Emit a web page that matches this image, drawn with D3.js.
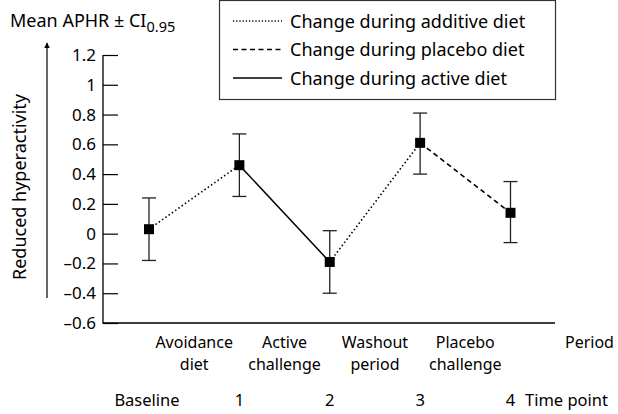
<!DOCTYPE html>
<html>
<head>
<meta charset="utf-8">
<script src="https://cdn.jsdelivr.net/npm/d3@7"></script>
<style>
  body { margin: 0; background: #fff; }
  svg { display: block; font-family: "Noto Sans", sans-serif; }
</style>
</head>
<body>
<svg id="chart" width="618" height="414"></svg>
<script>
// time points along the x axis (0 = baseline)
const timePoints = ["Baseline", "1", "2", "3", "4"];
const periodTop = ["Avoidance", "Active", "Washout", "Placebo"];
const periodBottom = ["diet", "challenge", "period", "challenge"];
// mean APHR and 95% CI at each time point
const means = [0.03, 0.46, -0.19, 0.61, 0.14];
const ciLow = [-0.18, 0.25, -0.40, 0.40, -0.06];
const ciHigh = [0.24, 0.67, 0.02, 0.81, 0.35];
// which diet each segment between time points belongs to
const segmentKind = ["additive", "active", "additive", "placebo"];
const legendKinds = ["additive", "placebo", "active"];
const legendLabels = ["Change during additive diet", "Change during placebo diet", "Change during active diet"];
const yTicks = [-0.6, -0.4, -0.2, 0, 0.2, 0.4, 0.6, 0.8, 1, 1.2];

const dashes = { additive: "1.5,2.5", placebo: "5,3.5", active: null };

const svg = d3.select("#chart");

const x = d3.scaleLinear().domain([0, 4]).range([149, 510.5]);
const y = d3.scaleLinear().domain([-0.6, 1.2]).range([323, 55]);
const axisX0 = 103, axisX1 = 555;

// y axis, ticks pointing inward
const yAxis = d3.axisLeft(y)
    .tickValues(yTicks)
    .tickSize(-15)
    .tickSizeOuter(0)
    .tickPadding(7)
    .tickFormat(d => (d < 0 ? "\u2013" : "") + Math.abs(Math.round(d * 10) / 10));

const yG = svg.append("g")
    .attr("transform", `translate(${axisX0},0)`)
    .call(yAxis);
yG.select(".domain").remove();
yG.selectAll("line").attr("stroke", "#000").attr("stroke-width", 1.2);
yG.selectAll("text")
    .attr("fill", "#000")
    .style("font-size", "17px")
    .style("font-family", "'Noto Sans', sans-serif");

// axis frame
svg.append("path")
    .attr("d", `M${axisX0},${y(1.2)}V${y(-0.6)}H${axisX1}`)
    .attr("fill", "none")
    .attr("stroke", "#000")
    .attr("stroke-width", 1.3);

// title
const title = svg.append("text")
    .attr("x", 10).attr("y", 27)
    .style("font-size", "18px");
title.append("tspan").text("Mean APHR \u00b1 CI");
title.append("tspan").attr("dy", 5).style("font-size", "14.5px").text("0.95");

// y axis label and arrow
svg.append("text")
    .attr("transform", "translate(26,187) rotate(-90)")
    .attr("text-anchor", "middle")
    .style("font-size", "18px")
    .text("Reduced hyperactivity");

svg.append("defs").append("marker")
    .attr("id", "arrow")
    .attr("viewBox", "0 0 10 10")
    .attr("refX", 9).attr("refY", 5)
    .attr("markerWidth", 6).attr("markerHeight", 9)
    .attr("markerUnits", "userSpaceOnUse")
    .attr("orient", "auto")
    .append("path").attr("d", "M0,0L10,5L0,10Z").attr("fill", "#000");

svg.append("line")
    .attr("x1", 47).attr("x2", 47)
    .attr("y1", 298).attr("y2", 43)
    .attr("stroke", "#000").attr("stroke-width", 1.2)
    .attr("marker-end", "url(#arrow)");

// connecting segments
const segs = segmentKind.map((k, i) => ({ i, k }));
svg.append("g").selectAll("line")
    .data(segs)
    .join("line")
    .attr("x1", d => x(d.i)).attr("y1", d => y(means[d.i]))
    .attr("x2", d => x(d.i + 1)).attr("y2", d => y(means[d.i + 1]))
    .attr("stroke", "#000")
    .attr("stroke-width", d => d.k === "active" ? 1.5 : 1.6)
    .attr("stroke-dasharray", d => dashes[d.k]);

// error bars
const eb = svg.append("g").selectAll("g")
    .data(means.map((m, i) => i))
    .join("g")
    .attr("stroke", "#222")
    .attr("stroke-width", 1.3);
eb.append("line")
    .attr("x1", i => x(i)).attr("x2", i => x(i))
    .attr("y1", i => y(ciLow[i])).attr("y2", i => y(ciHigh[i]));
eb.append("line")
    .attr("x1", i => x(i) - 7).attr("x2", i => x(i) + 7)
    .attr("y1", i => y(ciLow[i])).attr("y2", i => y(ciLow[i]));
eb.append("line")
    .attr("x1", i => x(i) - 7).attr("x2", i => x(i) + 7)
    .attr("y1", i => y(ciHigh[i])).attr("y2", i => y(ciHigh[i]));

// markers
svg.append("g").selectAll("rect")
    .data(means)
    .join("rect")
    .attr("x", (d, i) => x(i) - 5)
    .attr("y", d => y(d) - 5)
    .attr("width", 10).attr("height", 10)
    .attr("fill", "#000");

// period labels between time points, two lines each
[periodTop, periodBottom].forEach((labels, row) => {
    svg.append("g").selectAll("text")
        .data(labels)
        .join("text")
        .attr("text-anchor", "middle")
        .attr("x", (d, i) => x(i + 0.5))
        .attr("y", 348 + row * 22)
        .style("font-size", "16px")
        .text(d => d);
});

svg.append("text")
    .attr("x", 565).attr("y", 348)
    .style("font-size", "16px")
    .text("Period");

// time point labels
svg.append("g").selectAll("text")
    .data(timePoints)
    .join("text")
    .attr("text-anchor", "middle")
    .attr("x", (d, i) => i === 0 ? x(i) - 2 : x(i))
    .attr("y", 406)
    .style("font-size", "16.5px")
    .text(d => d);

svg.append("text")
    .attr("x", 525).attr("y", 406)
    .style("font-size", "16.5px")
    .text("Time point");

// legend
const lg = svg.append("g");
lg.append("rect")
    .attr("x", 219.5).attr("y", 0.5)
    .attr("width", 336).attr("height", 99)
    .attr("fill", "#fff")
    .attr("stroke", "#333").attr("stroke-width", 1.2);
const rows = lg.selectAll("g")
    .data(legendKinds)
    .join("g")
    .attr("transform", (d, i) => `translate(0,${21 + i * 28.5})`);
rows.append("line")
    .attr("x1", 233).attr("x2", 282)
    .attr("stroke", "#000")
    .attr("stroke-width", d => d === "active" ? 1.5 : 1.4)
    .attr("stroke-dasharray", d => d === "additive" ? "1.2,2" : dashes[d]);
rows.append("text")
    .attr("x", 290).attr("y", 6.5)
    .style("font-size", "18px")
    .text((d, i) => legendLabels[i]);
</script>
</body>
</html>
